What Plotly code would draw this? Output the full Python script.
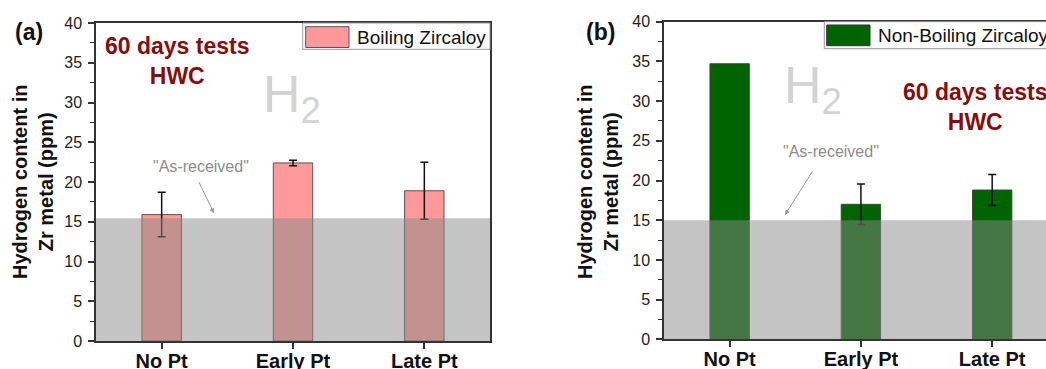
import plotly.graph_objects as go

W, H = 1046, 369

categories = ["No Pt", "Early Pt", "Late Pt"]
boiling_values = [15.9, 22.4, 18.9]
boiling_err = [2.8, 0.35, 3.6]
nonboiling_values = [34.7, 17.0, 18.8]
nonboiling_err = [None, 2.55, 1.95]
as_received_left = 15.45
as_received_right = 15.0
y_ticks = [0, 5, 10, 15, 20, 25, 30, 35, 40]
series_names = ["Boiling Zircaloy", "Non-Boiling Zircaloy"]
panel_labels = ["(a)", "(b)"]
y_title = "Hydrogen content in<br>Zr metal (ppm)"

FONT = "Arial, Liberation Sans, sans-serif"
PINK = "#FF9999"
GREEN = "#006400"
AXC = "#333333"
RED = "#8B0A0A"


def px(x):
    return x / W


def py(y):
    return 1 - y / H


fig = go.Figure()
fig.add_trace(go.Bar(
    x=categories, y=boiling_values, width=0.3, name=series_names[0],
    marker=dict(color=PINK, line=dict(color="#555555", width=1)),
    error_y=dict(type="data", array=boiling_err, color="#111111", thickness=1.5, width=4),
    xaxis="x", yaxis="y", showlegend=False))
fig.add_trace(go.Bar(
    x=categories, y=nonboiling_values, width=0.3, name=series_names[1],
    marker=dict(color=GREEN, line=dict(color="#3a4a3a", width=1)),
    xaxis="x2", yaxis="y2", showlegend=False))
# error bars of the non-boiling series (only where measured)
eb_x = [c for c, e in zip(categories, nonboiling_err) if e is not None]
eb_y = [v for v, e in zip(nonboiling_values, nonboiling_err) if e is not None]
eb_e = [e for e in nonboiling_err if e is not None]
fig.add_trace(go.Scatter(
    x=eb_x, y=eb_y, mode="markers", marker=dict(size=0.1, opacity=0),
    error_y=dict(type="data", array=eb_e, color="#111111", thickness=1.5, width=4),
    xaxis="x2", yaxis="y2", showlegend=False, hoverinfo="skip"))

xcommon = dict(type="category", showline=True, linecolor=AXC, linewidth=1.5, mirror=True,
               ticks="outside", ticklen=6, tickwidth=1.5, tickcolor=AXC, automargin=False,
               tickfont=dict(family=FONT, size=20, color="#111111", weight="bold"),
               ticklabelstandoff=-5,
               showgrid=False, zeroline=False, fixedrange=True)
ycommon = dict(range=[0, 40], tickvals=y_ticks, showline=True, linecolor=AXC, linewidth=1.5,
               mirror=True, ticks="outside", ticklen=6, tickwidth=1.5, tickcolor=AXC,
               automargin=False,
               minor=dict(dtick=2.5, ticks="outside", ticklen=4, tickwidth=1, tickcolor=AXC),
               tickfont=dict(family=FONT, size=16, color="#222222"),
               showgrid=False, zeroline=False, ticklabelstandoff=3)

fig.update_layout(
    template="none",
    width=W, height=H, margin=dict(l=0, r=0, t=0, b=0, autoexpand=False),
    paper_bgcolor="white", plot_bgcolor="white",
    font=dict(family=FONT),
    xaxis=dict(domain=[px(96), px(490)], range=[-0.5, 2.5], anchor="y", **xcommon),
    yaxis=dict(domain=[py(341), py(23)], anchor="x", **ycommon),
    xaxis2=dict(domain=[px(664), 1.0], range=[-0.5, 2.41], anchor="y2", **xcommon),
    yaxis2=dict(domain=[py(339.3), py(21.7)], anchor="x2", **ycommon),
)

shapes = [
    # as-received bands
    dict(type="rect", xref="x domain", yref="y", x0=0, x1=1, y0=0, y1=as_received_left,
         fillcolor="#8A8A8A", opacity=0.5, line=dict(width=0), layer="above"),
    dict(type="rect", xref="x2 domain", yref="y2", x0=0, x1=1, y0=0, y1=as_received_right,
         fillcolor="#8A8A8A", opacity=0.5, line=dict(width=0), layer="above"),
    # legend boxes
    dict(type="rect", xref="paper", yref="paper", x0=px(302.7), x1=px(490), y0=py(49.3), y1=py(23),
         fillcolor="white", line=dict(color="#999999", width=1), layer="above"),
    dict(type="rect", xref="paper", yref="paper", x0=px(305.7), x1=px(349), y0=py(47.5), y1=py(26.7),
         fillcolor=PINK, line=dict(color="#555555", width=1), layer="above"),
    dict(type="rect", xref="paper", yref="paper", x0=px(824.3), x1=px(1060), y0=py(48.7), y1=py(21.7),
         fillcolor="white", line=dict(color="#999999", width=1), layer="above"),
    dict(type="rect", xref="paper", yref="paper", x0=px(826.7), x1=px(870), y0=py(45.7), y1=py(25),
         fillcolor=GREEN, line=dict(color="#333333", width=1), layer="above"),
]
fig.update_layout(shapes=shapes)

ann = []
# legend texts
ann.append(dict(text=series_names[0], x=px(355), y=py(37.5), xref="paper", yref="paper",
                xanchor="left", yanchor="middle", showarrow=False,
                font=dict(family=FONT, size=19, color="#111111")))
ann.append(dict(text=series_names[1], x=px(876), y=py(35.5), xref="paper", yref="paper",
                xanchor="left", yanchor="middle", showarrow=False,
                font=dict(family=FONT, size=19, color="#111111")))
# panel labels
ann.append(dict(text="<b>%s</b>" % panel_labels[0], x=px(28.5), y=py(32), xref="paper", yref="paper",
                xanchor="center", yanchor="middle", showarrow=False,
                font=dict(family=FONT, size=23, color="#111111")))
ann.append(dict(text="<b>%s</b>" % panel_labels[1], x=px(600), y=py(32), xref="paper", yref="paper",
                xanchor="center", yanchor="middle", showarrow=False,
                font=dict(family=FONT, size=23, color="#111111")))
# y titles
for xc in (33, 598):
    ann.append(dict(text="<b>%s</b>" % y_title, x=px(xc), y=py(182), xref="paper", yref="paper",
                    xanchor="center", yanchor="middle", showarrow=False, textangle=-90,
                    font=dict(family=FONT, size=20, color="#111111")))
# test condition
ann.append(dict(text="<b>60 days tests<br>HWC</b>", x=px(177), y=py(61.5), xref="paper", yref="paper",
                xanchor="center", yanchor="middle", showarrow=False,
                font=dict(family=FONT, size=23, color=RED)))
ann.append(dict(text="<b>60 days tests<br>HWC</b>", x=px(975), y=py(107.5), xref="paper", yref="paper",
                xanchor="center", yanchor="middle", showarrow=False,
                font=dict(family=FONT, size=23, color=RED)))
# H2
ann.append(dict(text="H<sub>2</sub>", x=px(261), y=py(98), xref="paper", yref="paper",
                xanchor="left", yanchor="middle", showarrow=False,
                font=dict(family=FONT, size=52, color="#D3D3D3")))
ann.append(dict(text="H<sub>2</sub>", x=px(782), y=py(89), xref="paper", yref="paper",
                xanchor="left", yanchor="middle", showarrow=False,
                font=dict(family=FONT, size=52, color="#D3D3D3")))
# as-received labels
ann.append(dict(text='"As-received"', x=px(201), y=py(166), xref="paper", yref="paper",
                xanchor="center", yanchor="middle", showarrow=False,
                font=dict(family=FONT, size=16, color="#8C8C8C")))
ann.append(dict(text='"As-received"', x=px(831), y=py(151.5), xref="paper", yref="paper",
                xanchor="center", yanchor="middle", showarrow=False,
                font=dict(family=FONT, size=16, color="#8C8C8C")))
# arrows
ann.append(dict(text="", x=px(214), y=py(213.3), xref="paper", yref="paper",
                ax=-15.7, ay=-32.6, showarrow=True, arrowhead=2, arrowsize=1, arrowwidth=1,
                arrowcolor="#999999"))
ann.append(dict(text="", x=px(785), y=py(215), xref="paper", yref="paper",
                ax=28.3, ay=-45, showarrow=True, arrowhead=2, arrowsize=1, arrowwidth=1,
                arrowcolor="#999999"))
fig.update_layout(annotations=ann)

fig.write_html("out.html")
